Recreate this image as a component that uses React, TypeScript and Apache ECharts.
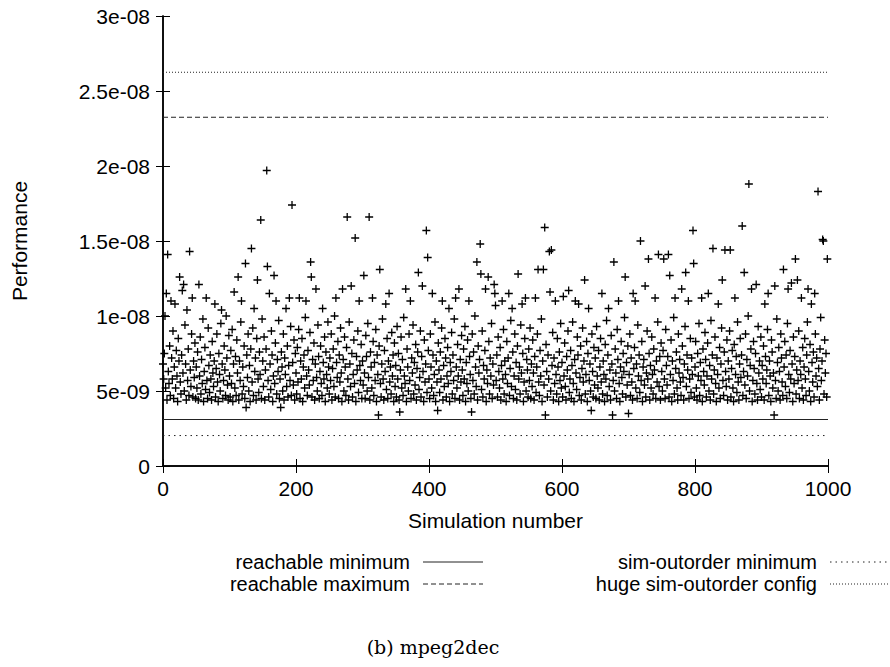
import React, { useEffect, useRef } from "react";
import * as echarts from "echarts";

// Performance per simulation, in units of 1e-10
const perf: number[] = [
  68, 58, 75, 100, 52, 115, 44, 141, 63, 55, 80, 47, 110, 72, 58, 90, 45, 66, 108, 52, 77, 60, 43, 85, 70, 126, 56, 48, 74, 117, 62, 121, 50, 94, 68, 44, 104, 57, 78, 47, 143, 64, 53, 88, 112, 46, 70, 59, 82, 45,
  66, 52, 76, 44, 121, 60, 86, 48, 71, 55, 98, 43, 63, 79, 51, 112, 57, 45, 92, 67, 49, 74, 58, 44, 83, 62, 53, 70, 108, 46, 65, 88, 56, 43, 75, 61, 50, 95, 104, 68, 45, 57, 80, 64, 47, 100, 72, 54, 44, 87,
  60, 46, 77, 55, 91, 43, 68, 116, 52, 73, 47, 84, 62, 126, 44, 70, 57, 96, 110, 48, 66, 53, 80, 45, 135, 39, 74, 59, 88, 50, 67, 43, 78, 145, 56, 92, 47, 105, 63, 72, 44, 85, 124, 58, 49, 76, 61, 164, 45, 98,
  70, 53, 86, 44, 64, 78, 197, 133, 57, 46, 115, 68, 51, 90, 74, 43, 60, 127, 55, 82, 110, 48, 71, 63, 97, 45, 58, 39, 76, 66, 50, 88, 44, 72, 61, 105, 53, 80, 46, 67, 112, 57, 93, 47, 174, 69, 54, 84, 44, 75,
  62, 48, 79, 56, 91, 112, 45, 70, 58, 85, 43, 66, 74, 52, 99, 110, 60, 47, 77, 64, 54, 89, 136, 126, 46, 71, 57, 82, 44, 68, 118, 59, 50, 94, 73, 45, 63, 80, 55, 47, 105, 69, 58, 86, 43, 76, 61, 52, 96, 66,
  48, 72, 57, 88, 44, 65, 78, 53, 100, 46, 112, 69, 59, 83, 45, 74, 56, 92, 62, 43, 118, 71, 50, 86, 66, 47, 79, 166, 58, 44, 96, 68, 53, 120, 75, 46, 61, 84, 55, 152, 43, 73, 64, 90, 49, 110, 67, 57, 81, 45,
  70, 54, 127, 62, 45, 87, 73, 50, 95, 59, 166, 44, 76, 66, 52, 112, 83, 47, 69, 57, 91, 43, 74, 61, 34, 80, 131, 55, 46, 68, 98, 58, 44, 77, 63, 108, 51, 85, 45, 70, 115, 56, 66, 48, 89, 60, 74, 43, 82, 53,
  67, 46, 93, 58, 75, 44, 36, 64, 86, 52, 71, 47, 99, 60, 55, 118, 43, 78, 66, 50, 88, 57, 110, 45, 72, 62, 94, 48, 69, 54, 81, 44, 65, 76, 129, 51, 59, 90, 46, 73, 120, 63, 43, 84, 56, 68, 157, 49, 139, 77,
  58, 45, 88, 66, 52, 115, 74, 47, 61, 96, 43, 70, 56, 37, 82, 64, 49, 76, 58, 92, 110, 44, 67, 53, 85, 72, 46, 60, 79, 55, 105, 43, 69, 63, 89, 48, 74, 57, 98, 45, 112, 66, 52, 81, 60, 118, 44, 71, 56, 87,
  64, 47, 78, 58, 93, 43, 69, 55, 84, 50, 110, 73, 61, 45, 36, 88, 57, 76, 48, 100, 66, 53, 136, 44, 80, 62, 71, 148, 128, 51, 90, 46, 67, 58, 77, 118, 43, 64, 55, 126, 83, 48, 72, 60, 95, 45, 68, 54, 121, 115,
  107, 57, 74, 46, 86, 63, 52, 79, 44, 67, 110, 58, 91, 48, 70, 61, 43, 83, 55, 72, 115, 47, 65, 97, 53, 105, 76, 45, 60, 88, 51, 69, 44, 80, 128, 58, 66, 48, 94, 62, 108, 75, 43, 56, 85, 112, 50, 71, 64, 46,
  78, 57, 92, 45, 68, 53, 84, 62, 44, 73, 112, 49, 66, 88, 131, 56, 47, 77, 60, 98, 43, 70, 131, 54, 159, 34, 81, 63, 46, 74, 58, 143, 116, 50, 144, 67, 89, 44, 72, 55, 110, 61, 48, 85, 66, 43, 76, 57, 95, 52,
  69, 46, 113, 60, 82, 53, 44, 73, 64, 90, 117, 49, 58, 77, 45, 67, 96, 55, 43, 71, 110, 62, 51, 86, 74, 108, 47, 59, 80, 44, 65, 92, 56, 70, 124, 48, 61, 83, 43, 75, 105, 57, 68, 50, 37, 88, 63, 46, 79, 54,
  72, 45, 93, 60, 52, 77, 44, 66, 85, 56, 115, 48, 70, 61, 43, 81, 58, 97, 47, 74, 105, 53, 64, 44, 87, 68, 34, 57, 136, 50, 78, 62, 45, 91, 71, 110, 55, 43, 66, 83, 59, 48, 75, 63, 99, 126, 46, 69, 54, 80,
  35, 61, 88, 47, 72, 56, 44, 115, 65, 79, 110, 52, 68, 45, 94, 60, 74, 49, 150, 57, 83, 43, 66, 71, 54, 120, 46, 62, 90, 58, 138, 75, 44, 67, 52, 86, 61, 48, 78, 64, 112, 45, 70, 56, 96, 141, 53, 73, 44, 82,
  63, 50, 77, 138, 58, 45, 91, 67, 54, 73, 141, 46, 127, 61, 84, 43, 70, 57, 99, 48, 112, 65, 76, 52, 44, 88, 62, 71, 56, 47, 118, 80, 59, 44, 68, 93, 129, 53, 74, 64, 110, 45, 58, 85, 49, 72, 61, 157, 135, 46,
  66, 83, 52, 44, 75, 60, 95, 47, 69, 57, 112, 43, 78, 63, 54, 89, 71, 46, 60, 82, 115, 50, 67, 44, 97, 58, 74, 145, 48, 64, 86, 55, 43, 72, 61, 108, 52, 79, 45, 68, 92, 124, 57, 47, 76, 144, 63, 53, 84, 44,
  70, 58, 90, 144, 46, 65, 77, 52, 43, 81, 112, 61, 73, 49, 96, 56, 44, 68, 85, 59, 74, 160, 47, 63, 129, 54, 88, 45, 71, 60, 100, 188, 50, 67, 78, 118, 43, 57, 83, 65, 48, 75, 121, 55, 44, 93, 62, 70, 51, 86,
  46, 67, 58, 80, 44, 108, 73, 55, 64, 91, 115, 47, 70, 60, 43, 84, 76, 52, 62, 34, 120, 57, 45, 98, 69, 50, 79, 63, 44, 88, 72, 56, 47, 131, 66, 83, 53, 74, 45, 95, 118, 61, 49, 77, 58, 122, 68, 43, 86, 55,
  73, 138, 48, 64, 124, 57, 90, 45, 70, 61, 112, 52, 79, 44, 66, 85, 58, 47, 74, 96, 118, 63, 50, 81, 43, 108, 69, 56, 76, 46, 115, 88, 60, 72, 53, 183, 65, 44, 78, 99, 57, 70, 151, 150, 48, 84, 62, 75, 46, 138,
];

const xTickLabels = ["0", "200", "400", "600", "800", "1000"];
const yTickLabels = ["0", "5e-09", "1e-08", "1.5e-08", "2e-08", "2.5e-08", "3e-08"];

const refNames = [
  "reachable minimum",
  "reachable maximum",
  "sim-outorder minimum",
  "huge sim-outorder config",
];
const refValues = [3.1e-9, 2.325e-8, 2.03e-9, 2.625e-8];
const refDashes: (number[] | "solid")[] = ["solid", [5, 3], [1.5, 4], [1, 2]];

const caption = "(b) mpeg2dec";
const xName = "Simulation number";
const yName = "Performance";

const FONT = "Liberation Sans";

export default function App() {
  const ref = useRef<HTMLDivElement>(null);
  useEffect(() => {
    if (!ref.current) return;
    const chart = echarts.init(ref.current, undefined, { renderer: "svg" });

    const points = perf.map((v, i) => [i, v * 1e-10]);

    const refSeries = refNames.map((name, k) => ({
      name,
      type: "line",
      xAxisIndex: 0,
      yAxisIndex: 0,
      symbol: "none",
      silent: true,
      data: [
        [0, refValues[k]],
        [1000, refValues[k]],
      ],
      lineStyle: { color: "#222", width: 1, type: refDashes[k] },
      z: 1,
    }));

    // gnuplot-style key: text right-aligned, sample line on the right
    const keyCols = [
      { textRight: 410, x1: 423, x2: 483 },
      { textRight: 817, x1: 830, x2: 888 },
    ];
    const keyRows = [562, 584];
    const keyGraphics: any[] = [];
    refNames.forEach((name, k) => {
      const col = keyCols[Math.floor(k / 2)];
      const y = keyRows[k % 2];
      keyGraphics.push({
        type: "text",
        style: {
          text: name,
          x: col.textRight,
          y,
          align: "right",
          verticalAlign: "middle",
          fontSize: 20,
          lineHeight: 18,
          fontFamily: FONT,
          fill: "#000",
        },
      });
      keyGraphics.push({
        type: "line",
        shape: { x1: col.x1, y1: y, x2: col.x2, y2: y },
        style: {
          stroke: "#222",
          lineWidth: 1,
          lineDash: refDashes[k] === "solid" ? null : refDashes[k],
        },
      });
    });

    const axisLine = { show: true, lineStyle: { color: "#000", width: 1.5 } };
    const axisTick = { show: true, inside: true, length: 7, lineStyle: { color: "#000", width: 1 } };

    chart.setOption({
      animation: false,
      backgroundColor: "#fff",
      grid: { left: 163, right: 62, top: 16, bottom: 201, containLabel: false, outerBoundsMode: "none" },
      xAxis: [
        {
          type: "value",
          min: 0,
          max: 1000,
          interval: 200,
          position: "bottom",
          axisLine,
          axisTick,
          splitLine: { show: false },
          axisLabel: {
            margin: 12,
            fontSize: 21,
            fontFamily: FONT,
            color: "#000",
            formatter: (v: number) => xTickLabels[Math.round(v / 200)] ?? "",
          },
          name: xName,
          nameLocation: "middle",
          nameGap: 44,
          nameTextStyle: { fontSize: 21, fontFamily: FONT, color: "#000" },
        },
        {
          type: "value",
          min: 0,
          max: 1000,
          interval: 200,
          position: "top",
          axisLine,
          axisTick,
          splitLine: { show: false },
          axisLabel: { show: false },
        },
      ],
      yAxis: [
        {
          type: "value",
          min: 0,
          max: 3e-8,
          interval: 5e-9,
          position: "left",
          axisLine,
          axisTick,
          splitLine: { show: false },
          axisLabel: {
            margin: 13,
            fontSize: 21,
            fontFamily: FONT,
            color: "#000",
            formatter: (v: number) => yTickLabels[Math.round(v / 5e-9)] ?? "",
          },
          name: yName,
          nameLocation: "middle",
          nameRotate: 90,
          nameGap: 133,
          nameTextStyle: { fontSize: 21, fontFamily: FONT, color: "#000" },
        },
        {
          type: "value",
          min: 0,
          max: 3e-8,
          interval: 5e-9,
          position: "right",
          axisLine,
          axisTick,
          splitLine: { show: false },
          axisLabel: { show: false },
        },
      ],
      series: [
        {
          name: "Performance",
          type: "scatter",
          xAxisIndex: 0,
          yAxisIndex: 0,
          symbol: "path://M0,4L8,4M4,0L4,8",
          symbolSize: 8,
          itemStyle: { color: "none", borderColor: "#000", borderWidth: 1.3, opacity: 1 },
          data: points,
          silent: true,
          z: 2,
        },
        ...refSeries,
      ],
      graphic: [
        ...keyGraphics,
        {
          type: "text",
          style: {
            text: caption,
            x: 433,
            y: 647,
            align: "center",
            verticalAlign: "middle",
            fontSize: 19,
            fontFamily: "DejaVu Serif",
            fill: "#000",
          },
        },
      ],
    });

    return () => chart.dispose();
  }, []);

  return (
    <div
      ref={ref}
      style={{ position: "fixed", left: 0, top: 0, width: 890, height: 667, background: "#fff" }}
    />
  );
}
